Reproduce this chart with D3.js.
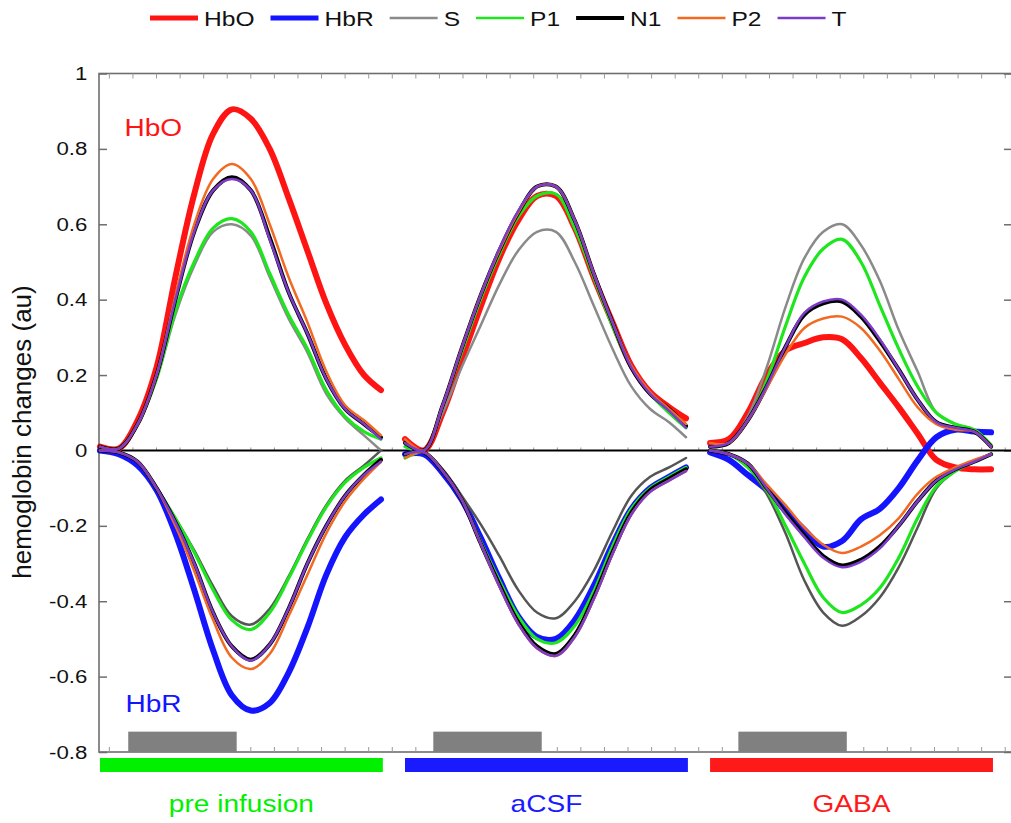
<!DOCTYPE html>
<html>
<head>
<meta charset="utf-8">
<script src="https://cdn.jsdelivr.net/npm/d3@7"></script>
<style>
    body { margin: 0; background: #fff; }
    text { font-family: "Liberation Sans", Arial, sans-serif; }
</style>
</head>
<body>
<div id="chart"></div>
<script>
"use strict";

// time within each recording block (s), stimulus starts at 0
var tLocal = [-3, -1, 1, 3, 5, 7, 9, 11, 13, 15, 17, 19, 21, 23, 25, 26.8];
var conditions = ["pre infusion", "aCSF", "GABA"];
var condStart = [0, 32.35, 64.7];   //block offsets on the shared time axis
var condSpan = [-3, 27];
var stimSpan = [0, 11.5];
var yTicks = [-0.8, -0.6, -0.4, -0.2, 0, 0.2, 0.4, 0.6, 0.8, 1];
var seriesNames = ["HbO", "HbR", "S", "P1", "N1", "P2", "T"];

// one row per condition: pre infusion, aCSF, GABA
var HbO = [
    [0.01, 0.005, 0.08, 0.22, 0.46, 0.68, 0.84, 0.905, 0.88, 0.80, 0.67, 0.53, 0.39, 0.28, 0.20, 0.16],
    [0.03, 0.0, 0.10, 0.24, 0.38, 0.51, 0.61, 0.675, 0.675, 0.59, 0.46, 0.34, 0.225, 0.155, 0.115, 0.085],
    [0.02, 0.03, 0.10, 0.20, 0.265, 0.285, 0.30, 0.295, 0.245, 0.18, 0.115, 0.045, -0.025, -0.045, -0.05, -0.05]];
var HbR = [
    [0.0, -0.01, -0.04, -0.105, -0.22, -0.37, -0.53, -0.65, -0.69, -0.67, -0.59, -0.47, -0.33, -0.23, -0.17, -0.13],
    [-0.01, -0.01, -0.06, -0.13, -0.23, -0.34, -0.44, -0.495, -0.50, -0.45, -0.36, -0.25, -0.155, -0.10, -0.07, -0.045],
    [-0.005, -0.025, -0.065, -0.105, -0.16, -0.21, -0.255, -0.24, -0.183, -0.155, -0.10, -0.027, 0.035, 0.055, 0.05, 0.048]];

var S_oxy = [
    [0.01, 0.005, 0.07, 0.19, 0.36, 0.49, 0.58, 0.60, 0.57, 0.46, 0.35, 0.26, 0.15, 0.085, 0.04, 0.0],
    [0.01, 0.0, 0.10, 0.22, 0.33, 0.44, 0.53, 0.58, 0.58, 0.50, 0.385, 0.27, 0.17, 0.11, 0.075, 0.035],
    [0.01, 0.02, 0.09, 0.22, 0.38, 0.51, 0.58, 0.60, 0.545, 0.45, 0.32, 0.21, 0.10, 0.07, 0.055, 0.01]];
var P1_oxy = [
    [0.01, 0.005, 0.07, 0.19, 0.37, 0.50, 0.59, 0.615, 0.58, 0.47, 0.36, 0.27, 0.16, 0.09, 0.05, 0.03],
    [0.01, 0.0, 0.12, 0.26, 0.40, 0.52, 0.62, 0.675, 0.68, 0.59, 0.46, 0.33, 0.22, 0.15, 0.10, 0.06],
    [0.01, 0.02, 0.08, 0.185, 0.33, 0.46, 0.535, 0.56, 0.50, 0.385, 0.27, 0.17, 0.10, 0.07, 0.055, 0.015]];
var N1_oxy = [
    [0.01, 0.005, 0.07, 0.20, 0.40, 0.58, 0.69, 0.725, 0.69, 0.565, 0.42, 0.31, 0.19, 0.11, 0.07, 0.035],
    [0.02, 0.0, 0.12, 0.27, 0.41, 0.53, 0.63, 0.70, 0.70, 0.61, 0.47, 0.34, 0.22, 0.15, 0.11, 0.065],
    [0.01, 0.02, 0.08, 0.17, 0.275, 0.36, 0.39, 0.395, 0.355, 0.29, 0.215, 0.135, 0.075, 0.06, 0.05, 0.01]];
var P2_oxy = [
    [0.01, 0.005, 0.07, 0.20, 0.41, 0.60, 0.72, 0.76, 0.72, 0.60, 0.46, 0.34, 0.21, 0.12, 0.08, 0.04],
    [0.03, 0.0, 0.12, 0.27, 0.41, 0.53, 0.63, 0.70, 0.70, 0.61, 0.47, 0.34, 0.225, 0.155, 0.11, 0.07],
    [0.02, 0.02, 0.08, 0.165, 0.255, 0.325, 0.35, 0.355, 0.325, 0.265, 0.19, 0.115, 0.07, 0.055, 0.05, 0.01]];
var T_oxy = [
    [0.01, 0.005, 0.07, 0.20, 0.40, 0.58, 0.69, 0.72, 0.69, 0.56, 0.42, 0.31, 0.19, 0.11, 0.07, 0.03],
    [0.02, 0.0, 0.12, 0.27, 0.41, 0.535, 0.635, 0.70, 0.70, 0.61, 0.47, 0.34, 0.22, 0.15, 0.105, 0.06],
    [0.01, 0.02, 0.08, 0.17, 0.275, 0.365, 0.395, 0.40, 0.36, 0.295, 0.215, 0.135, 0.075, 0.06, 0.05, 0.01]];

var S_deoxy = [
    [0.0, -0.005, -0.03, -0.10, -0.18, -0.265, -0.36, -0.44, -0.462, -0.42, -0.335, -0.235, -0.145, -0.08, -0.04, 0.0],
    [-0.01, -0.005, -0.05, -0.12, -0.195, -0.28, -0.37, -0.43, -0.445, -0.40, -0.32, -0.215, -0.12, -0.07, -0.045, -0.02],
    [0.0, -0.01, -0.045, -0.115, -0.22, -0.345, -0.43, -0.465, -0.44, -0.39, -0.31, -0.205, -0.10, -0.055, -0.03, -0.01]];
var P1_deoxy = [
    [0.0, -0.005, -0.03, -0.10, -0.18, -0.27, -0.37, -0.45, -0.475, -0.43, -0.34, -0.24, -0.15, -0.085, -0.045, -0.02],
    [-0.02, -0.005, -0.055, -0.13, -0.24, -0.345, -0.44, -0.50, -0.51, -0.465, -0.375, -0.255, -0.155, -0.10, -0.07, -0.045],
    [0.0, -0.01, -0.045, -0.105, -0.20, -0.30, -0.39, -0.43, -0.41, -0.365, -0.285, -0.18, -0.095, -0.055, -0.03, -0.01]];
var N1_deoxy = [
    [0.0, -0.005, -0.03, -0.10, -0.19, -0.30, -0.43, -0.52, -0.555, -0.515, -0.42, -0.30, -0.20, -0.12, -0.065, -0.025],
    [-0.01, -0.005, -0.055, -0.13, -0.245, -0.355, -0.455, -0.52, -0.54, -0.49, -0.39, -0.27, -0.165, -0.105, -0.075, -0.05],
    [0.0, -0.01, -0.035, -0.10, -0.165, -0.225, -0.28, -0.305, -0.29, -0.255, -0.20, -0.135, -0.08, -0.05, -0.03, -0.01]];
var P2_deoxy = [
    [0.0, -0.005, -0.03, -0.10, -0.20, -0.32, -0.45, -0.55, -0.58, -0.54, -0.44, -0.33, -0.22, -0.135, -0.075, -0.03],
    [-0.02, -0.005, -0.055, -0.13, -0.245, -0.36, -0.46, -0.525, -0.545, -0.495, -0.395, -0.275, -0.17, -0.11, -0.08, -0.055],
    [0.0, -0.01, -0.035, -0.09, -0.145, -0.205, -0.25, -0.272, -0.255, -0.225, -0.18, -0.115, -0.07, -0.045, -0.025, -0.01]];
var T_deoxy = [
    [0.0, -0.005, -0.03, -0.10, -0.19, -0.30, -0.43, -0.52, -0.557, -0.515, -0.42, -0.30, -0.20, -0.12, -0.065, -0.03],
    [-0.01, -0.005, -0.055, -0.13, -0.245, -0.36, -0.46, -0.525, -0.545, -0.495, -0.395, -0.275, -0.17, -0.11, -0.08, -0.055],
    [0.0, -0.01, -0.035, -0.10, -0.17, -0.23, -0.285, -0.31, -0.295, -0.26, -0.20, -0.135, -0.08, -0.05, -0.03, -0.01]];


(function () {
    var W = 1011, H = 823,
        plot = {left: 99, right: 1013, top: 73.5, bottom: 752},
        xstretch = 1.17,   //source picture was widened, text included
        font = "\"Liberation Sans\", Arial, sans-serif",
        axcol = "#6e6e6e",
        condColors = ["#00f000", "#1a1aff", "#ff1a1a"],
        style = {
            HbO: {color: "#ff1414", width: 6},
            HbR: {color: "#1414ff", width: 6},
            S:   {color: "#8a8a8a", width: 2.5, lower: "#555555"},
            P1:  {color: "#1ee61e", width: 3.2},
            N1:  {color: "#000000", width: 4},
            P2:  {color: "#f26a22", width: 2.5},
            T:   {color: "#7d3cc8", width: 2.5}},
        traces, svg, x, y, line, plotg;

    traces = [
        {name: "HbO", rows: HbO},
        {name: "HbR", rows: HbR},
        {name: "S", rows: S_oxy}, {name: "S", rows: S_deoxy, lower: true},
        {name: "P1", rows: P1_oxy}, {name: "P1", rows: P1_deoxy},
        {name: "N1", rows: N1_oxy}, {name: "N1", rows: N1_deoxy},
        {name: "P2", rows: P2_oxy}, {name: "P2", rows: P2_deoxy},
        {name: "T", rows: T_oxy}, {name: "T", rows: T_deoxy}];

    svg = d3.select("#chart").append("svg")
        .attr("width", W).attr("height", H);

    x = d3.scaleLinear()
        .domain([-3.1, -3.1 + (plot.right - plot.left) / 9.43])
        .range([plot.left, plot.right]);
    y = d3.scaleLinear().domain([-0.8, 1]).range([plot.bottom, plot.top]);

    line = d3.line()
        .curve(d3.curveCatmullRom.alpha(0.5))
        .x(function (d) { return x(d.t); })
        .y(function (d) { return y(d.v); });

    function stretched (sel, px, py) {
        return sel.append("g")
            .attr("transform", "translate(" + px + "," + py + ") scale(" + xstretch + ",1)");
    }

    // axes box
    plotg = svg.append("g");
    plotg.append("rect")
        .attr("x", plot.left).attr("y", plot.top)
        .attr("width", plot.right - plot.left)
        .attr("height", plot.bottom - plot.top)
        .attr("fill", "none").attr("stroke", axcol).attr("stroke-width", 1.6);

    // minor ticks along top, zero line and bottom
    d3.range(-2, x.domain()[1], 2.5).forEach(function (u) {
        [[plot.top, 5], [y(0), -3], [plot.bottom, -5]].forEach(function (p) {
            plotg.append("line")
                .attr("x1", x(u)).attr("x2", x(u))
                .attr("y1", p[0]).attr("y2", p[0] + p[1])
                .attr("stroke", "#999").attr("stroke-width", 1);
        });
    });

    var yAxis = svg.append("g")
        .attr("transform", "translate(" + plot.left + ",0)")
        .call(d3.axisLeft(y).tickValues(yTicks).tickSize(-8).tickPadding(10)
              .tickFormat(function (d) { return String(d); }));
    yAxis.select(".domain").remove();
    yAxis.selectAll(".tick line").attr("stroke", axcol).attr("stroke-width", 1.5);
    yAxis.selectAll(".tick text")
        .attr("font-family", font).attr("font-size", 19).attr("fill", "#111")
        .attr("transform", "scale(" + xstretch + ",1)");

    var yAxisR = svg.append("g")
        .attr("transform", "translate(" + plot.right + ",0)")
        .call(d3.axisRight(y).tickValues(yTicks).tickSize(-9).tickFormat(""));
    yAxisR.select(".domain").remove();
    yAxisR.selectAll(".tick line").attr("stroke", axcol).attr("stroke-width", 1.5);

    svg.append("text")
        .attr("transform", "translate(31,432) rotate(-90)")
        .attr("text-anchor", "middle")
        .attr("font-family", font).attr("font-size", 26).attr("fill", "#111")
        .text("hemoglobin changes (au)");

    // zero line
    svg.append("line")
        .attr("x1", plot.left).attr("x2", plot.right)
        .attr("y1", y(0)).attr("y2", y(0))
        .attr("stroke", "#000").attr("stroke-width", 2);

    // stimulus periods and condition bars
    conditions.forEach(function (c, i) {
        svg.append("rect")
            .attr("x", x(condStart[i] + stimSpan[0]))
            .attr("width", x(condStart[i] + stimSpan[1]) - x(condStart[i] + stimSpan[0]))
            .attr("y", y(-0.746)).attr("height", y(-0.8) - y(-0.746))
            .attr("fill", "#808080");
        svg.append("rect")
            .attr("x", x(condStart[i] + condSpan[0]))
            .attr("width", x(condStart[i] + condSpan[1]) - x(condStart[i] + condSpan[0]))
            .attr("y", plot.bottom + 6).attr("height", 14)
            .attr("fill", condColors[i]);
        stretched(svg, x(condStart[i] + (condSpan[0] + condSpan[1]) / 2), 812)
            .append("text")
            .attr("text-anchor", "middle")
            .attr("font-family", font).attr("font-size", 24)
            .attr("fill", condColors[i])
            .text(c);
    });

    // traces
    traces.forEach(function (tr) {
        var st = style[tr.name];
        tr.rows.forEach(function (row, i) {
            var pts = row.map(function (v, k) {
                return {t: condStart[i] + tLocal[k], v: v}; });
            svg.append("path")
                .datum(pts)
                .attr("d", line)
                .attr("fill", "none")
                .attr("stroke", (tr.lower && st.lower) || st.color)
                .attr("stroke-width", st.width)
                .attr("stroke-linejoin", "round")
                .attr("stroke-linecap", "round");
        });
    });

    stretched(svg, x(-0.4), y(0.835)).append("text")
        .attr("font-family", font).attr("font-size", 24)
        .attr("fill", style.HbO.color).text("HbO");
    stretched(svg, x(-0.3), y(-0.695)).append("text")
        .attr("font-family", font).attr("font-size", 24)
        .attr("fill", style.HbR.color).text("HbR");

    // legend, laid out left to right
    var leg = svg.append("g"), cx = 0;
    seriesNames.forEach(function (nm) {
        var st = style[nm], tx;
        leg.append("line")
            .attr("x1", cx).attr("x2", cx + 48)
            .attr("y1", 0).attr("y2", 0)
            .attr("stroke", st.color)
            .attr("stroke-width", nm === "HbO" || nm === "HbR" ? 5 : (nm === "N1" ? 4 : 2.5));
        cx += 54;
        tx = stretched(leg, cx, 8).append("text")
            .attr("font-family", font).attr("font-size", 21).attr("fill", "#111")
            .text(nm);
        cx += tx.node().getComputedTextLength() * xstretch + 16;
    });
    leg.attr("transform", "translate(150,18)");
}());
</script>
</body>
</html>
